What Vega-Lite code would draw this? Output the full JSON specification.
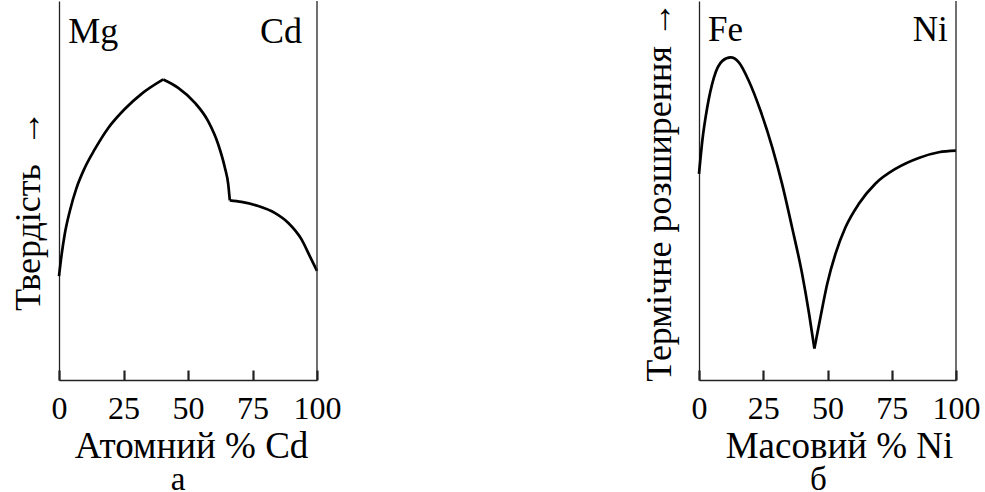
{
  "$schema": "https://vega.github.io/schema/vega-lite/v6.json",
  "padding": {"left": 10, "top": 0, "right": 0, "bottom": 0},
  "background": "white",
  "spacing": 300,
  "config": {
    "font": "Liberation Serif",
    "view": {"stroke": null},
    "axis": {"grid": false, "domainColor": "#222", "domainWidth": 1.3, "tickColor": "#222", "tickWidth": 2.2,
      "labelFont": "Liberation Serif", "titleFont": "Liberation Serif", "labelColor": "black", "titleColor": "black", "titleFontWeight": "normal"},
    "title": {"font": "Liberation Serif", "fontWeight": "normal", "color": "black"}
  },
  "hconcat": [
    {
      "width": 258, "height": 379,
      "title": {"text": "а", "orient": "bottom", "fontSize": 33, "offset": 0, "dx": -10, "frame": "group"},
      "layer": [
        {
          "data": {"values": [
            {"x": 0, "y": 27.4, "seg": "A"}, {"x": 1.0, "y": 33.0, "seg": "A"}, {"x": 2.2, "y": 38.4, "seg": "A"}, {"x": 4.2, "y": 44.6, "seg": "A"}, {"x": 6.8, "y": 50.7, "seg": "A"}, {"x": 10.0, "y": 56.0, "seg": "A"}, {"x": 13.9, "y": 60.9, "seg": "A"}, {"x": 19.1, "y": 66.5, "seg": "A"}, {"x": 25.5, "y": 71.5, "seg": "A"}, {"x": 32.0, "y": 75.5, "seg": "A"}, {"x": 40.4, "y": 79.3, "seg": "A"},
            {"x": 40.4, "y": 79.3, "seg": "B"}, {"x": 46.2, "y": 77.1, "seg": "B"}, {"x": 52.6, "y": 73.2, "seg": "B"}, {"x": 57.8, "y": 68.3, "seg": "B"}, {"x": 61.7, "y": 62.2, "seg": "B"}, {"x": 64.3, "y": 56.0, "seg": "B"}, {"x": 65.6, "y": 51.6, "seg": "B"}, {"x": 66.2, "y": 47.4, "seg": "B"},
            {"x": 66.2, "y": 47.4, "seg": "C"}, {"x": 70.7, "y": 47.0, "seg": "C"}, {"x": 77.2, "y": 45.9, "seg": "C"}, {"x": 83.6, "y": 44.1, "seg": "C"}, {"x": 88.8, "y": 41.5, "seg": "C"}, {"x": 94.0, "y": 37.1, "seg": "C"}, {"x": 97.2, "y": 32.7, "seg": "C"}, {"x": 100, "y": 28.8, "seg": "C"}
          ]},
          "mark": {"type": "line", "interpolate": "monotone", "color": "black", "strokeWidth": 2.7},
          "encoding": {
            "x": {"field": "x", "type": "quantitative", "title": "Атомний % Cd", "scale": {"domain": [0, 100], "nice": false},
              "axis": {"values": [0, 25, 50, 75, 100], "tickSize": -10, "labelPadding": 23, "labelFontSize": 32, "titleFontSize": 37, "titlePadding": 4, "labelFlush": false, "labelOverlap": false, "titleX": 132}},
            "y": {"field": "y", "type": "quantitative", "title": "Твердість\u00a0\u00a0→", "scale": {"domain": [0, 100], "nice": false},
              "axis": {"labels": false, "ticks": false, "titleFontSize": 36, "titlePadding": 12, "titleY": 209}},
            "detail": {"field": "seg"}
          }
        },
        {
          "data": {"values": [{"label": "Mg", "x": 13.3, "y": 89}, {"label": "Cd", "x": 86, "y": 89}]},
          "mark": {"type": "text", "fontSize": 36, "baseline": "alphabetic", "align": "center", "color": "black"},
          "encoding": {
            "x": {"field": "x", "type": "quantitative", "title": "Атомний % Cd"},
            "y": {"field": "y", "type": "quantitative", "title": "Твердість\u00a0\u00a0→"},
            "text": {"field": "label"}
          }
        },
        {
          "data": {"values": [{"x": 100}]},
          "mark": {"type": "rule", "color": "#222", "strokeWidth": 1.3},
          "encoding": {"x": {"field": "x", "type": "quantitative", "title": "Атомний % Cd"}}
        }
      ]
    },
    {
      "width": 257, "height": 379,
      "title": {"text": "б", "orient": "bottom", "fontSize": 33, "offset": 0, "dx": -9, "frame": "group"},
      "layer": [
        {
          "data": {"values": [
            {"x": 0, "y": 54.4, "seg": "A"}, {"x": 1.3, "y": 63.2, "seg": "A"}, {"x": 3.2, "y": 71.9, "seg": "A"}, {"x": 5.8, "y": 79.8, "seg": "A"}, {"x": 9.1, "y": 84.2, "seg": "A"}, {"x": 12.3, "y": 85.1, "seg": "A"}, {"x": 15.5, "y": 83.8, "seg": "A"}, {"x": 19.4, "y": 78.9, "seg": "A"}, {"x": 23.9, "y": 71.1, "seg": "A"}, {"x": 28.5, "y": 61.4, "seg": "A"}, {"x": 32.3, "y": 51.8, "seg": "A"}, {"x": 36.2, "y": 40.3, "seg": "A"}, {"x": 40.1, "y": 28.1, "seg": "A"}, {"x": 42.8, "y": 17.6, "seg": "A"}, {"x": 44.9, "y": 8.3, "seg": "A"},
            {"x": 44.9, "y": 8.3, "seg": "B"}, {"x": 47.3, "y": 16.7, "seg": "B"}, {"x": 49.9, "y": 25.4, "seg": "B"}, {"x": 53.1, "y": 33.3, "seg": "B"}, {"x": 57.0, "y": 40.3, "seg": "B"}, {"x": 62.2, "y": 46.5, "seg": "B"}, {"x": 68.6, "y": 51.8, "seg": "B"}, {"x": 76.4, "y": 55.7, "seg": "B"}, {"x": 85.5, "y": 58.6, "seg": "B"}, {"x": 93.3, "y": 60.1, "seg": "B"}, {"x": 100, "y": 60.5, "seg": "B"}
          ]},
          "mark": {"type": "line", "interpolate": "monotone", "color": "black", "strokeWidth": 2.7},
          "encoding": {
            "x": {"field": "x", "type": "quantitative", "title": "Масовий % Ni", "scale": {"domain": [0, 100], "nice": false},
              "axis": {"values": [0, 25, 50, 75, 100], "tickSize": -10, "labelPadding": 23, "labelFontSize": 32, "titleFontSize": 37, "titlePadding": 4, "labelFlush": false, "labelOverlap": false, "titleX": 140}},
            "y": {"field": "y", "type": "quantitative", "title": "Термічне розширення →", "scale": {"domain": [0, 100], "nice": false},
              "axis": {"labels": false, "ticks": false, "titleFontSize": 36, "titlePadding": 21, "titleY": 190}},
            "detail": {"field": "seg"}
          }
        },
        {
          "data": {"values": [{"label": "Fe", "x": 10.3, "y": 89.5}, {"label": "Ni", "x": 90, "y": 89.5}]},
          "mark": {"type": "text", "fontSize": 35, "baseline": "alphabetic", "align": "center", "color": "black"},
          "encoding": {
            "x": {"field": "x", "type": "quantitative", "title": "Масовий % Ni"},
            "y": {"field": "y", "type": "quantitative", "title": "Термічне розширення →"},
            "text": {"field": "label"}
          }
        },
        {
          "data": {"values": [{"x": 100}]},
          "mark": {"type": "rule", "color": "#222", "strokeWidth": 1.3},
          "encoding": {"x": {"field": "x", "type": "quantitative", "title": "Масовий % Ni"}}
        }
      ]
    }
  ]
}
